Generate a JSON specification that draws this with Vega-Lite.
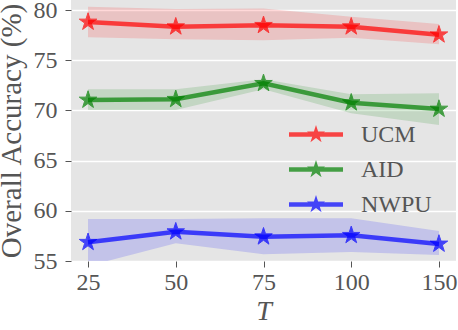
{
  "$schema": "https://vega.github.io/schema/vega-lite/v6.json",
  "width": 385,
  "height": 261,
  "autosize": {"type": "none"},
  "padding": {"left": 71, "top": 0, "right": 2, "bottom": 69},
  "background": "white",
  "config": {
    "view": {"fill": "#e5e5e5", "stroke": null},
    "font": "Liberation Serif",
    "axis": {
      "domain": false,
      "gridColor": "white",
      "gridWidth": 1.6,
      "gridOpacity": 1,
      "tickColor": "#555555",
      "tickSize": 6,
      "tickWidth": 1,
      "labelFont": "Times New Roman, Liberation Serif, serif",
      "labelFontSize": 24,
      "labelColor": "#555555",
      "titleFont": "Liberation Serif",
      "titleColor": "#555555",
      "titleFontWeight": "normal"
    }
  },
  "data": {
    "values": [
      {"T": 25, "method": "UCM", "acc": 78.81, "lo": 77.28, "hi": 80.33},
      {"T": 50, "method": "UCM", "acc": 78.34, "lo": 77.09, "hi": 80.1},
      {"T": 75, "method": "UCM", "acc": 78.48, "lo": 77.0, "hi": 80.15},
      {"T": 100, "method": "UCM", "acc": 78.34, "lo": 77.25, "hi": 79.34},
      {"T": 150, "method": "UCM", "acc": 77.54, "lo": 76.59, "hi": 78.6},
      {"T": 25, "method": "AID", "acc": 71.04, "lo": 70.04, "hi": 72.11},
      {"T": 50, "method": "AID", "acc": 71.11, "lo": 70.04, "hi": 72.1},
      {"T": 75, "method": "AID", "acc": 72.7, "lo": 72.1, "hi": 73.1},
      {"T": 100, "method": "AID", "acc": 70.77, "lo": 69.72, "hi": 71.6},
      {"T": 150, "method": "AID", "acc": 70.14, "lo": 68.55, "hi": 71.7},
      {"T": 25, "method": "NWPU", "acc": 56.87, "lo": 54.5, "hi": 59.19},
      {"T": 50, "method": "NWPU", "acc": 57.92, "lo": 56.77, "hi": 59.19},
      {"T": 75, "method": "NWPU", "acc": 57.42, "lo": 55.67, "hi": 59.26},
      {"T": 100, "method": "NWPU", "acc": 57.56, "lo": 55.9, "hi": 59.26},
      {"T": 150, "method": "NWPU", "acc": 56.7, "lo": 55.6, "hi": 57.99}
    ]
  },
  "encoding": {
    "x": {
      "field": "T",
      "type": "ordinal",
      "scale": {"type": "point", "padding": 0.194},
      "axis": {
        "labelAngle": 0,
        "labelPadding": 3,
        "title": "T",
        "titleFontStyle": "italic",
        "titleFontSize": 28,
        "titlePadding": 3
      }
    },
    "color": {
      "field": "method",
      "type": "nominal",
      "scale": {"domain": ["UCM", "AID", "NWPU"], "range": ["#ff0000", "#008000", "#0000ff"]},
      "legend": {
        "title": null,
        "orient": "none",
        "legendX": 218,
        "legendY": 117,
        "padding": 0,
        "symbolType": "M-1,-0.085H1V0.085H-1Z M0,-0.352L0.079,-0.109L0.335,-0.109L0.128,0.042L0.207,0.285L0,0.134L-0.207,0.285L-0.128,0.042L-0.335,-0.109L-0.079,-0.109Z",
        "symbolSize": 2916,
        "symbolOpacity": 0.7,
        "symbolStrokeWidth": 0,
        "labelFont": "Liberation Serif",
        "labelFontSize": 24,
        "labelColor": "#555555",
        "labelOffset": 18,
        "clipHeight": 35,
        "rowPadding": 0,
        "encode": {"symbols": {"update": {"opacity": {"value": 0.7}, "fillOpacity": {"value": 1}, "strokeOpacity": {"value": 0}}}}
      }
    }
  },
  "layer": [
    {
      "mark": {"type": "area", "opacity": 0.15, "clip": true},
      "encoding": {
        "y": {"field": "lo", "type": "quantitative"},
        "y2": {"field": "hi"}
      }
    },
    {
      "mark": {"type": "line", "opacity": 0.7, "strokeWidth": 4.5},
      "encoding": {
        "y": {
          "field": "acc",
          "type": "quantitative",
          "scale": {"domain": [55, 81], "nice": false, "zero": false},
          "axis": {
            "values": [55, 60, 65, 70, 75, 80],
            "labelPadding": 8,
            "title": "Overall Accuracy (%)",
            "titleFontSize": 29,
            "titlePadding": 7
          }
        }
      }
    },
    {
      "mark": {
        "type": "point",
        "filled": true,
        "opacity": 0.7,
        "strokeWidth": 1,
        "size": 340,
        "shape": "M0,-1L0.2245,-0.309L0.951,-0.309L0.363,0.118L0.588,0.809L0,0.382L-0.588,0.809L-0.363,0.118L-0.951,-0.309L-0.2245,-0.309Z"
      },
      "encoding": {
        "y": {"field": "acc", "type": "quantitative"},
        "stroke": {"field": "method", "type": "nominal", "legend": null, "scale": {"domain": ["UCM", "AID", "NWPU"], "range": ["#ff0000", "#008000", "#0000ff"]}}
      }
    }
  ]
}
